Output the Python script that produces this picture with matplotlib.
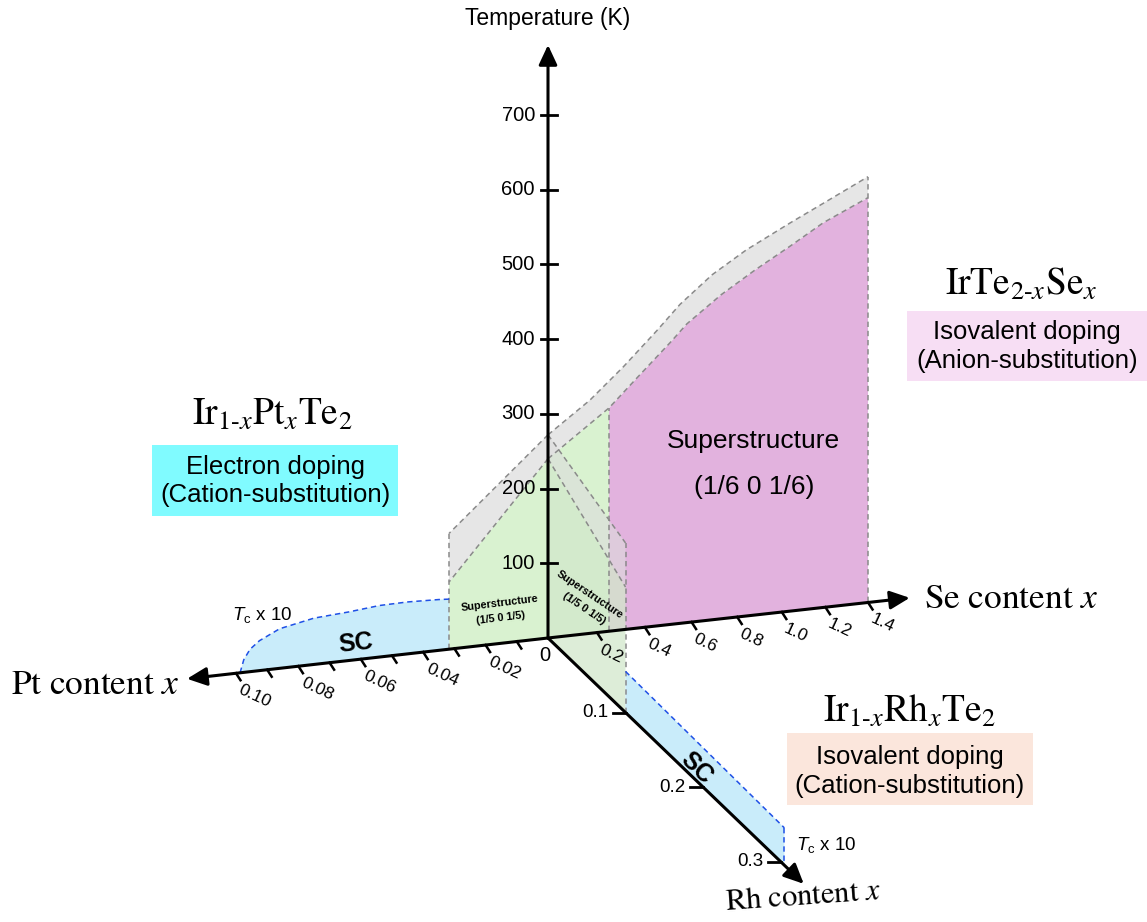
import numpy as np
import matplotlib.pyplot as plt
from matplotlib.patches import Polygon, Rectangle

plt.rcParams['font.family'] = ['Liberation Sans', 'DejaVu Sans']
plt.rcParams['mathtext.fontset'] = 'custom'
plt.rcParams['mathtext.rm'] = 'Liberation Sans'
plt.rcParams['mathtext.it'] = 'Liberation Sans:italic'

# ---- data ----
T_ticks = [100, 200, 300, 400, 500, 600, 700]
se_ticks = [0.2, 0.4, 0.6, 0.8, 1.0, 1.2, 1.4]
pt_ticks = [0.01, 0.02, 0.03, 0.04, 0.05, 0.06, 0.07, 0.08, 0.09, 0.10]
pt_labels = [0.02, 0.04, 0.06, 0.08, 0.10]
rh_ticks = [0.1, 0.2, 0.3]

# IrTe2-xSex (Se plane)
se_up = [0, 0.17, 0.31, 0.45, 0.55, 0.69, 0.84, 1.04, 1.19, 1.4]
T_se_up = [272, 312, 352, 395, 427, 462, 490, 520, 541, 570]
se_low = [0, 0.25, 0.37, 0.51, 0.58, 0.73, 0.88, 1.04, 1.19, 1.4]
T_se_low = [240, 299, 336, 378, 400, 434, 462, 489, 515, 542]

# Ir1-xPtxTe2 (Pt plane)
pt_edge = [0, 0.0317]
T_pt_up = [272, 155]
T_pt_low = [240, 90]
pt_sc = [0.0317, 0.035, 0.045, 0.054, 0.064, 0.075, 0.086, 0.0925, 0.0955, 0.0975, 0.0987]
T_pt_sc = [67, 68, 69.5, 69, 65, 62, 53, 40, 30, 17, 0]

# Ir1-xRhxTe2 (Rh plane)
rh_edge = [0, 0.1]
T_rh_up = [272, 227]
T_rh_low = [240, 168]
rh_sc = [0.1, 0.305]
T_rh_sc = [55, 50]

# colours
c_green = '#d9f2d0'
c_grey = '#e6e6e6'
c_pink = '#e2b2de'
c_blue = '#c9ecfa'
c_dash = '#8a8a8a'
c_bdash = '#1f50e6'

# ---- oblique projection (pixel space) ----
O = (548.0, 638.0)
KT = 0.747  # px per K


def p_se(s, T):
    s = np.asarray(s, float)
    d = 248 * s / (1 + 0.0606 * s)
    return O[0] + d, O[1] - 0.111 * d - KT * np.asarray(T, float)


def p_pt(p, T):
    p = np.asarray(p, float)
    return O[0] - 3120 * p, O[1] + 352.6 * p - KT * np.asarray(T, float)


def p_rh(r, T):
    r = np.asarray(r, float)
    return O[0] + 775 * r, O[1] + 745 * r - KT * np.asarray(T, float)


def region(proj, xs_top, T_top, xs_bot=None, T_bot=None, **kw):
    # polygon between a top curve and a bottom curve (default: the axis)
    if xs_bot is None:
        xs_bot = [xs_top[-1], xs_top[0]]
        T_bot = [0, 0]
    else:
        xs_bot, T_bot = xs_bot[::-1], T_bot[::-1]
    x1, y1 = proj(xs_top, T_top)
    x2, y2 = proj(xs_bot, T_bot)
    pts = np.column_stack([np.r_[x1, x2], np.r_[y1, y2]])
    ax.add_patch(Polygon(pts, closed=True, lw=0, **kw))


def dline(proj, xs, Ts, color=c_dash, z=4):
    x, y = proj(xs, Ts)
    ax.plot(x, y, color=color, lw=1.1, ls=(0, (3.5, 2.5)), zorder=z)


fig = plt.figure(figsize=(11.47, 9.22), dpi=100)
ax = fig.add_axes([0, 0, 1, 1])
ax.set_xlim(0, 1147)
ax.set_ylim(922, 0)
ax.axis('off')

# Se plane
n_g = se_low.index(0.25)
region(p_se, se_low[:n_g + 1], T_se_low[:n_g + 1], fc=c_green, zorder=1)
region(p_se, se_low[n_g:], T_se_low[n_g:], fc=c_pink, zorder=1)
region(p_se, se_up, T_se_up, se_low, T_se_low, fc=c_grey, zorder=1)
dline(p_se, se_up, T_se_up)
dline(p_se, se_low, T_se_low)
dline(p_se, [0.25, 0.25], [0, T_se_low[n_g]])
dline(p_se, [1.4, 1.4], [0, T_se_up[-1]])

# Pt plane
region(p_pt, pt_edge, T_pt_low, fc=c_green, zorder=1)
region(p_pt, pt_edge, T_pt_up, pt_edge, T_pt_low, fc=c_grey, zorder=1)
region(p_pt, pt_sc, T_pt_sc, fc=c_blue, zorder=1)
dline(p_pt, pt_edge, T_pt_up)
dline(p_pt, pt_edge, T_pt_low)
dline(p_pt, [pt_edge[1]] * 2, [0, T_pt_up[1]])
dline(p_pt, pt_sc, T_pt_sc, color=c_bdash)

# Rh plane (in front, see-through)
region(p_rh, rh_edge, T_rh_low, fc='#d2e8cb', alpha=0.75, zorder=3)
region(p_rh, rh_edge, T_rh_up, rh_edge, T_rh_low, fc='#dcdcdc', alpha=0.6, zorder=3)
region(p_rh, rh_sc, T_rh_sc, fc=c_blue, zorder=3)
dline(p_rh, rh_edge, T_rh_up)
dline(p_rh, rh_edge, T_rh_low)
dline(p_rh, [rh_edge[1]] * 2, [0, T_rh_up[1]])
dline(p_rh, rh_sc, T_rh_sc, color=c_bdash)
dline(p_rh, [rh_sc[1]] * 2, [T_rh_sc[1], 0], color=c_bdash)

# ---- axes with arrows ----
arrow = dict(arrowstyle='-|>,head_length=0.6,head_width=0.28', lw=2.2, color='k',
             mutation_scale=20, shrinkA=0, shrinkB=0)
tips = [(O[0], 45.0), tuple(map(float, p_se(1.6, 0))),
        tuple(map(float, p_pt(0.1157, 0))), tuple(map(float, p_rh(0.33, 0)))]
for tip in tips:
    ax.annotate('', xy=tip, xytext=O, arrowprops=arrow, zorder=6)

# temperature ticks
for t in T_ticks:
    y = O[1] - KT * t
    ax.plot([O[0] - 7, O[0] + 9], [y, y], color='k', lw=2, zorder=6)
    ax.text(535, y, str(t), ha='right', va='center', fontsize=14.5, zorder=7)

# Se ticks
for s in se_ticks:
    x, y = p_se(s, 0)
    ax.plot([x, x + 4.5], [y, y + 7], color='k', lw=1.8, zorder=6)
    ax.text(x + 14, y + 21, f'{s:.1f}', ha='center', va='center', rotation=-25,
            fontsize=12.5, zorder=7)

# Pt ticks
for p in pt_ticks:
    x, y = p_pt(p, 0)
    ax.plot([x, x + 4.5], [y, y + 7], color='k', lw=1.8, zorder=6)
for p in pt_labels:
    x, y = p_pt(p, 0)
    ax.text(x + 19, y + 23, f'{p:.2f}', ha='center', va='center', rotation=-25,
            fontsize=12.5, zorder=7)

# Rh ticks
for r in rh_ticks:
    x, y = p_rh(r, 0)
    ax.plot([x - 13, x], [y, y], color='k', lw=2, zorder=6)
    ax.text(x - 17, y, f'{r:.1f}', ha='right', va='center', fontsize=13.5, zorder=7)

ax.text(545, 655, '0', ha='center', va='center', fontsize=14.5, zorder=7)

# ---- axis titles ----
ax.text(548, 18, 'Temperature (K)', ha='center', va='center', fontsize=16.5)
ax.text(1011, 598, r'$\mathrm{Se\ content}\ x$', ha='center', va='center',
        fontsize=25.5, math_fontfamily='stix')
ax.text(95, 684, r'$\mathrm{Pt\ content}\ x$', ha='center', va='center',
        fontsize=25.5, math_fontfamily='stix')
ax.text(803, 897, r'$\mathrm{Rh\ content}\ x$', ha='center', va='center',
        fontsize=22, rotation=4, math_fontfamily='stix')

# ---- compound labels with boxes ----
ax.text(272, 425, r'$\mathrm{Ir}_{1\text{-}x}\mathrm{Pt}_{x}\mathrm{Te}_{2}$', ha='center',
        va='baseline', fontsize=27, math_fontfamily='stix')
ax.add_patch(Rectangle((152, 445), 246, 71, fc='#80fbff', lw=0))
ax.text(275, 467, 'Electron doping', ha='center', va='center', fontsize=18.5)
ax.text(275, 495, '(Cation-substitution)', ha='center', va='center', fontsize=18.5)

ax.text(1021, 295, r'$\mathrm{IrTe}_{2\text{-}x}\mathrm{Se}_{x}$', ha='center',
        va='baseline', fontsize=27, math_fontfamily='stix')
ax.add_patch(Rectangle((907, 311), 240, 70, fc='#f7def4', lw=0))
ax.text(1027, 332, 'Isovalent doping', ha='center', va='center', fontsize=18.5)
ax.text(1027, 361, '(Anion-substitution)', ha='center', va='center', fontsize=18.5)

ax.text(910, 722, r'$\mathrm{Ir}_{1\text{-}x}\mathrm{Rh}_{x}\mathrm{Te}_{2}$', ha='center',
        va='baseline', fontsize=27, math_fontfamily='stix')
ax.add_patch(Rectangle((787, 733), 246, 72, fc='#fbe6dc', lw=0))
ax.text(910, 757, 'Isovalent doping', ha='center', va='center', fontsize=18.5)
ax.text(910, 786, '(Cation-substitution)', ha='center', va='center', fontsize=18.5)

# ---- phase labels ----
ax.text(753, 441, 'Superstructure', ha='center', va='center', fontsize=19, zorder=7)
ax.text(754, 487, '(1/6 0 1/6)', ha='center', va='center', fontsize=19, zorder=7)

ax.text(500, 603, 'Superstructure', ha='center', va='center', fontsize=7.8,
        fontweight='bold', rotation=7, zorder=7)
ax.text(501, 618, '(1/5 0 1/5)', ha='center', va='center', fontsize=7.8,
        fontweight='bold', rotation=7, zorder=7)
ax.text(590, 595, 'Superstructure', ha='center', va='center', fontsize=7.8,
        fontweight='bold', rotation=-34, zorder=7)
ax.text(584, 609, '(1/5 0 1/5)', ha='center', va='center', fontsize=7.8,
        fontweight='bold', rotation=-34, zorder=7)

ax.text(356, 643, 'SC', ha='center', va='center', fontsize=18, fontweight='bold',
        rotation=6, zorder=7)
ax.text(697, 768, 'SC', ha='center', va='center', fontsize=18, fontweight='bold',
        rotation=-44, zorder=7)
ax.text(262, 615, r'$T_{\mathrm{c}}$ x 10', ha='center', va='center', fontsize=13.5)
ax.text(826, 845, r'$T_{\mathrm{c}}$ x 10', ha='center', va='center', fontsize=13.5)

fig.savefig('out.png', dpi=100)
